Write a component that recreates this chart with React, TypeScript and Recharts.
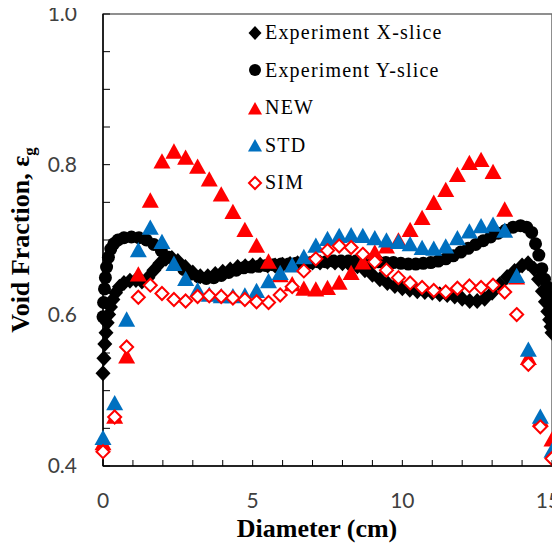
import { ScatterChart, Scatter, XAxis, YAxis, ReferenceArea, Legend } from 'recharts'

// model radial positions (cm)
const modelX = [
	0, 0.39, 0.79, 1.18, 1.58, 1.97, 2.37, 2.76, 3.16, 3.55, 3.95, 4.34, 4.74, 5.13, 5.53, 5.92, 6.32, 6.71, 7.11, 7.5,
	7.89, 8.29, 8.68, 9.08, 9.47, 9.87, 10.26, 10.66, 11.05, 11.45, 11.84, 12.24, 12.63, 13.03, 13.42, 13.82, 14.21,
	14.61, 15.0
]

const newVals = [
	0.43, 0.465, 0.545, 0.654, 0.752, 0.804, 0.817, 0.809, 0.797, 0.78, 0.76, 0.737, 0.713, 0.692, 0.671, 0.653, 0.641,
	0.635, 0.634, 0.636, 0.643, 0.656, 0.67, 0.683, 0.691, 0.699, 0.713, 0.729, 0.749, 0.766, 0.786, 0.802, 0.806, 0.79,
	0.74, 0.65, 0.543, 0.461, 0.435
]

const stdVals = [
	0.437, 0.483, 0.594, 0.686, 0.716, 0.697, 0.668, 0.648, 0.633, 0.627, 0.625, 0.625, 0.626, 0.632, 0.645, 0.656, 0.666,
	0.677, 0.692, 0.701, 0.705, 0.706, 0.705, 0.702, 0.699, 0.697, 0.694, 0.689, 0.688, 0.691, 0.702, 0.711, 0.718, 0.72,
	0.712, 0.652, 0.554, 0.465, 0.42
]

const simVals = [
	0.419, 0.465, 0.558, 0.624, 0.64, 0.629, 0.621, 0.619, 0.625, 0.626, 0.625, 0.623, 0.621, 0.618, 0.617, 0.627, 0.638,
	0.659, 0.675, 0.686, 0.692, 0.69, 0.681, 0.671, 0.66, 0.65, 0.643, 0.637, 0.633, 0.631, 0.636, 0.639, 0.637, 0.64,
	0.631, 0.601, 0.535, 0.452, 0.41
]

// experiment, X-slice
const expXPos = [
	0, 0.03, 0.06, 0.1, 0.14, 0.19, 0.25, 0.33, 0.42, 0.55, 0.7, 0.9, 1.1, 1.3, 1.5, 1.7, 1.9, 2.1, 2.3, 2.5, 2.75, 3,
	3.25, 3.5, 3.75, 4, 4.25, 4.5, 4.75, 5, 5.25, 5.5, 5.75, 6, 6.25, 6.5, 6.75, 7, 7.25, 7.5, 7.75, 8, 8.25, 8.5, 8.75,
	9, 9.25, 9.5, 9.75, 10, 10.25, 10.5, 10.75, 11, 11.25, 11.5, 11.75, 12, 12.25, 12.5, 12.75, 13, 13.25, 13.5, 13.75,
	14, 14.2, 14.4, 14.55, 14.68, 14.78, 14.86, 14.92, 14.97, 15
]
const expXVals = [
	0.523, 0.543, 0.562, 0.577, 0.59, 0.601, 0.611, 0.621, 0.63, 0.638, 0.643, 0.646, 0.647, 0.645, 0.65, 0.66, 0.669,
	0.675, 0.676, 0.672, 0.664, 0.657, 0.652, 0.652, 0.655, 0.658, 0.661, 0.664, 0.665, 0.666, 0.667, 0.666, 0.666, 0.667,
	0.668, 0.669, 0.67, 0.67, 0.67, 0.671, 0.67, 0.669, 0.667, 0.665, 0.66, 0.654, 0.648, 0.643, 0.639, 0.636, 0.634,
	0.632, 0.631, 0.63, 0.628, 0.627, 0.625, 0.622, 0.619, 0.619, 0.622, 0.63, 0.641, 0.651, 0.659, 0.666, 0.669, 0.662,
	0.648, 0.632, 0.618, 0.605, 0.594, 0.585, 0.577
]

// experiment, Y-slice
const expYPos = [
	0, 0.02, 0.05, 0.08, 0.12, 0.18, 0.26, 0.36, 0.5, 0.7, 0.95, 1.2, 1.45, 1.7, 1.95, 2.2, 2.45, 2.7, 2.95, 3.2, 3.45,
	3.7, 3.95, 4.2, 4.45, 4.7, 4.95, 5.2, 5.45, 5.7, 5.95, 6.2, 6.45, 6.7, 6.95, 7.2, 7.45, 7.7, 7.95, 8.2, 8.45, 8.7,
	8.95, 9.2, 9.45, 9.7, 9.95, 10.2, 10.45, 10.7, 10.95, 11.2, 11.45, 11.7, 11.95, 12.2, 12.45, 12.7, 12.95, 13.2,
	13.45, 13.7, 13.95, 14.15, 14.32, 14.45, 14.56, 14.66, 14.75, 14.83, 14.9, 14.95, 15
]
const expYVals = [
	0.598, 0.617, 0.635, 0.65, 0.664, 0.677, 0.688, 0.695, 0.7, 0.703, 0.704, 0.703, 0.7, 0.694, 0.686, 0.677, 0.668,
	0.661, 0.655, 0.651, 0.649, 0.65, 0.653, 0.657, 0.66, 0.663, 0.664, 0.665, 0.666, 0.667, 0.668, 0.668, 0.669, 0.67,
	0.67, 0.671, 0.671, 0.672, 0.672, 0.672, 0.672, 0.671, 0.671, 0.671, 0.67, 0.67, 0.669, 0.668, 0.668, 0.669, 0.67,
	0.672, 0.675, 0.679, 0.684, 0.689, 0.694, 0.699, 0.704, 0.709, 0.713, 0.717, 0.719, 0.717, 0.71, 0.695, 0.68, 0.662,
	0.648, 0.638, 0.625, 0.612, 0.598
]

const xTicks = [0, 1, 2, 3, 4, 5, 6, 7, 8, 9, 10, 11, 12, 13, 14, 15]
const yTicks = [0.4, 0.45, 0.5, 0.55, 0.6, 0.65, 0.7, 0.75, 0.8, 0.85, 0.9, 0.95, 1.0]

const legendNames = ['Experiment X-slice', 'Experiment Y-slice', 'NEW', 'STD', 'SIM']

const RED = '#ff0000'
const BLUE = '#0070c0'

const pts = (xs: number[], ys: number[]) => xs.map((x, i) => ({ x, y: ys[i] }))

const Diamond = ({ cx, cy, s = 7.5 }: any) => (
	<polygon points={`${cx},${cy - s - 0.5} ${cx + s},${cy} ${cx},${cy + s + 0.5} ${cx - s},${cy}`} fill="#000" />
)
const Dot = ({ cx, cy, r = 6.5 }: any) => <circle cx={cx} cy={cy} r={r} fill="#000" />
const Tri = ({ cx, cy, color, w = 8.5 }: any) => (
	<polygon points={`${cx},${cy - w} ${cx - w},${cy + w * 0.8} ${cx + w},${cy + w * 0.8}`} fill={color} />
)
const OpenDiamond = ({ cx, cy, s = 6.5 }: any) => (
	<polygon
		points={`${cx},${cy - s} ${cx + s},${cy} ${cx},${cy + s} ${cx - s},${cy}`}
		fill="#fff"
		stroke={RED}
		strokeWidth={2}
	/>
)

const XTick = ({ x, y, payload }: any) => {
	const v = payload.value
	// last label sits at the window edge, nudge it in a little
	const dx = v === 15 ? -4 : 0
	return (
		<g>
			<line x1={x} x2={x} y1={y} y2={y - 6} stroke="#000" />
			{v % 5 === 0 && (
				<text x={x + dx} y={y + 42} textAnchor="middle" fontFamily="Lato" fontSize={21} fill="#404040">
					{v}
				</text>
			)}
		</g>
	)
}

const YTick = ({ x, y, payload }: any) => {
	const v = payload.value
	const major = Math.round(v * 100) % 20 === 0
	return (
		<g>
			<line x1={x} x2={x + 7} y1={y} y2={y} stroke="#000" />
			{major && (
				<text x={x - 26} y={y + 7} textAnchor="end" fontFamily="Lato" fontSize={21} fill="#404040">
					{v.toFixed(1)}
				</text>
			)}
		</g>
	)
}

const marker = (i: number) => {
	if (i === 0) return <Diamond cx={9} cy={9} s={6.5} />
	if (i === 1) return <Dot cx={9} cy={9} r={6} />
	if (i === 2) return <Tri cx={9} cy={10} color={RED} w={7} />
	if (i === 3) return <Tri cx={9} cy={10} color={BLUE} w={7} />
	return <OpenDiamond cx={9} cy={9} s={6} />
}

const LegendBox = () => (
	<div style={{ fontFamily: '"Liberation Serif", "Times New Roman", serif', fontSize: 20, letterSpacing: 1.2 }}>
		{legendNames.map((n, i) => (
			<div key={n} style={{ height: 37.5, display: 'flex', alignItems: 'center', whiteSpace: 'nowrap' }}>
				<svg width={18} height={18}>
					{marker(i)}
				</svg>
				<span style={{ marginLeft: 1 }}>{n}</span>
			</div>
		))}
	</div>
)

const YTitle = () => (
	<text
		x={29}
		y={240}
		transform="rotate(-90, 29, 240)"
		textAnchor="middle"
		fontFamily='"Liberation Serif", serif'
		fontWeight="bold"
		fontSize={26}
		fill="#000"
	>
		Void Fraction, ε
		<tspan fontSize={17} dy={6}>
			g
		</tspan>
	</text>
)

const XTitle = () => (
	<text x={317} y={537} textAnchor="middle" fontFamily='"Liberation Serif", serif' fontWeight="bold" fontSize={26} fill="#000">
		Diameter (cm)
	</text>
)

export default function App() {
	return (
		<div style={{ marginTop: -8, marginLeft: -8, width: 560, height: 552, overflow: 'visible' }}>
			<ScatterChart width={560} height={552} margin={{ top: 14, right: 8, left: 33, bottom: 26 }}>
				<ReferenceArea x1={0} x2={15} y1={0.4} y2={1.0} fill="none" stroke="#6b6b6b" strokeWidth={1.5} />
				<XAxis
					type="number"
					dataKey="x"
					domain={[0, 15]}
					ticks={xTicks}
					interval={0}
					height={60}
					tickSize={0}
					tickMargin={0}
					tickLine={false}
					axisLine={{ stroke: '#000', strokeWidth: 1.5 }}
					tick={<XTick />}
					label={<XTitle />}
				/>
				<YAxis
					type="number"
					dataKey="y"
					domain={[0.4, 1.0]}
					ticks={yTicks}
					interval={0}
					width={70}
					tickSize={0}
					tickMargin={0}
					tickLine={false}
					axisLine={{ stroke: '#000', strokeWidth: 1.5 }}
					tick={<YTick />}
					label={<YTitle />}
				/>
				<Legend
					layout="vertical"
					align="center"
					verticalAlign="middle"
					wrapperStyle={{ top: 14, left: 246, width: 250 }}
					content={() => <LegendBox />}
				/>
				<Scatter name="Experiment X-slice" data={pts(expXPos, expXVals)} shape={(p: any) => <Diamond cx={p.cx} cy={p.cy} />} isAnimationActive={false} />
				<Scatter name="Experiment Y-slice" data={pts(expYPos, expYVals)} shape={(p: any) => <Dot cx={p.cx} cy={p.cy} />} isAnimationActive={false} />
				<Scatter name="NEW" data={pts(modelX, newVals)} shape={(p: any) => <Tri cx={p.cx} cy={p.cy} color={RED} />} isAnimationActive={false} />
				<Scatter name="STD" data={pts(modelX, stdVals)} shape={(p: any) => <Tri cx={p.cx} cy={p.cy} color={BLUE} />} isAnimationActive={false} />
				<Scatter name="SIM" data={pts(modelX, simVals)} shape={(p: any) => <OpenDiamond cx={p.cx} cy={p.cy} />} isAnimationActive={false} />
			</ScatterChart>
		</div>
	)
}
